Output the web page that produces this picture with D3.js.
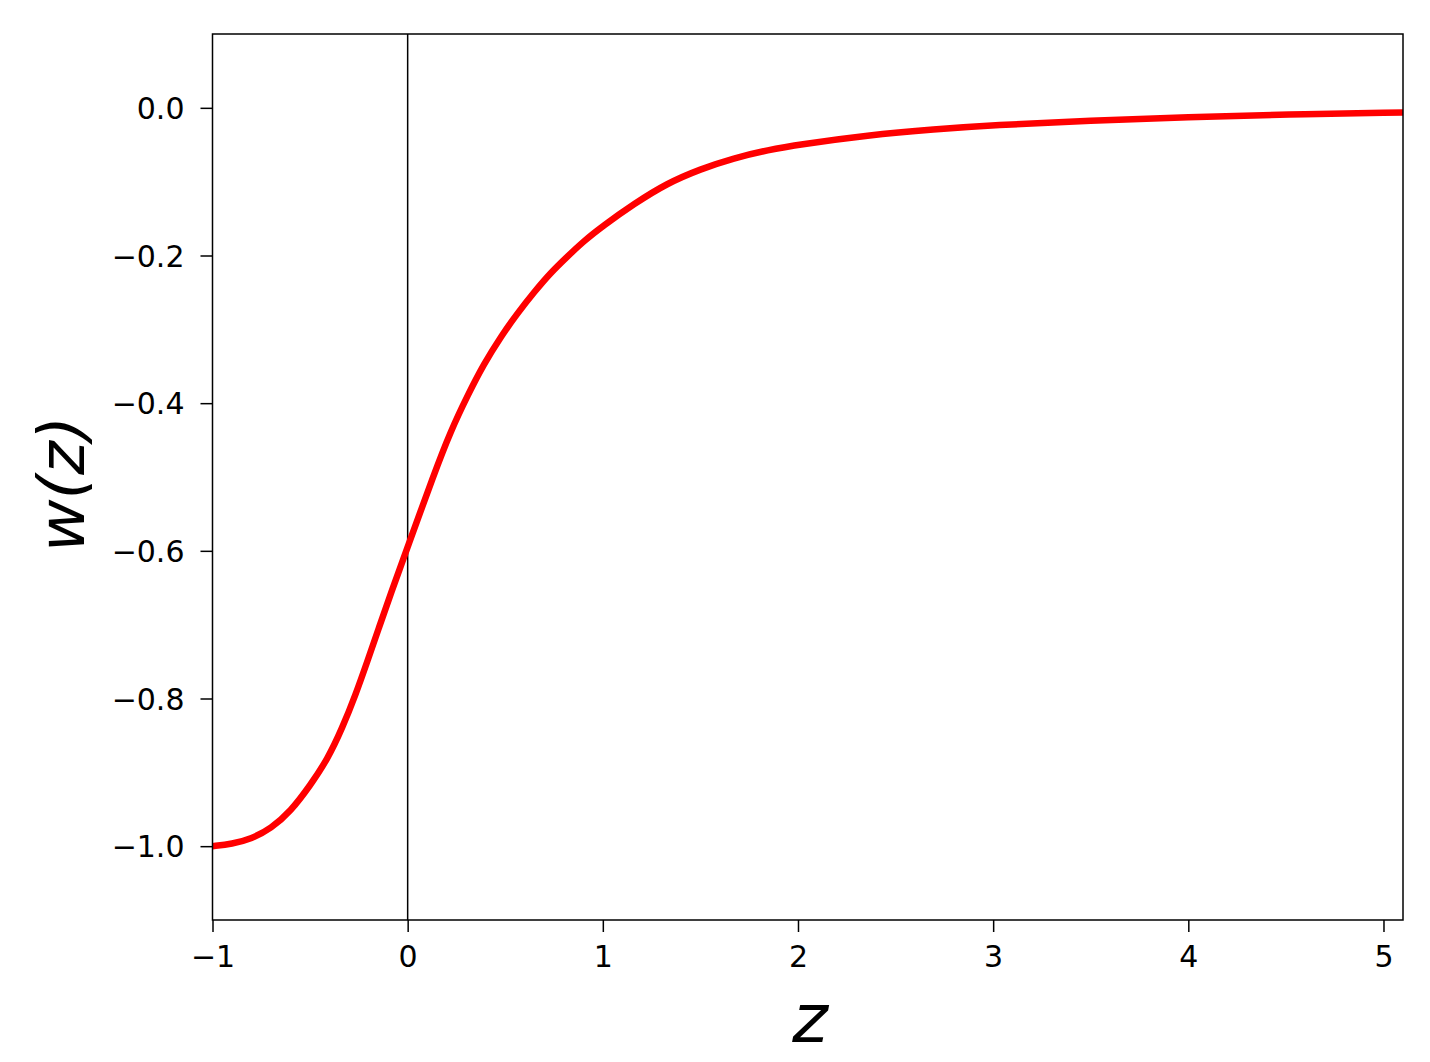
<!DOCTYPE html>
<html>
<head>
<meta charset="utf-8">
<script src="https://cdn.jsdelivr.net/npm/d3@7"></script>
<style>
  html, body { margin: 0; padding: 0; background: #fff; }
  svg { display: block; }
  text { font-family: "DejaVu Sans", sans-serif; fill: #000; }
</style>
</head>
<body>
<svg id="chart" width="1430" height="1062"></svg>
<script>
// Data
const zValues = [-1.0, -0.9, -0.8, -0.7, -0.6, -0.5, -0.41, -0.335, -0.267, -0.207, -0.147, -0.087, 0.0,
                 0.135, 0.22, 0.31, 0.39, 0.48, 0.56, 0.65, 0.73, 0.82, 0.90, 1.0, 1.16, 1.33, 1.50, 1.67, 1.85,
                 2.0, 2.36, 2.70, 3.0, 3.5, 4.0, 4.5, 5.1];
const wValues = [-1.0, -0.997, -0.990, -0.976, -0.953, -0.918, -0.882, -0.840, -0.795, -0.750, -0.704, -0.658, -0.595,
                 -0.496, -0.438, -0.388, -0.347, -0.309, -0.279, -0.249, -0.224, -0.201, -0.181, -0.160, -0.130, -0.102, -0.083, -0.068, -0.057,
                 -0.050, -0.037, -0.029, -0.0235, -0.017, -0.0125, -0.009, -0.0063];
const xTicks = [-1, 0, 1, 2, 3, 4, 5];
const yTicks = [-1.0, -0.8, -0.6, -0.4, -0.2, 0.0];
const xDomain = [-1, 5.1];
const yDomain = [-1.1, 0.1];
const xLabel = "z";
const yLabel = "w(z)";

(function () {
const svg = d3.select("#chart");
const pL = 212.5, pR = 1403, pT = 34, pB = 920;

const x = d3.scaleLinear().domain(xDomain).range([pL, pR]);
const y = d3.scaleLinear().domain(yDomain).range([pB, pT]);

const points = zValues.map((z, i) => [z, wValues[i]]);

svg.append("clipPath").attr("id", "clip")
  .append("rect").attr("x", pL).attr("y", pT).attr("width", pR - pL).attr("height", pB - pT);

// vertical line at z = 0
svg.append("line")
  .attr("x1", x(0)).attr("x2", x(0))
  .attr("y1", pT).attr("y2", pB)
  .attr("stroke", "#000").attr("stroke-width", 1.5);

// curve
const line = d3.line().x(d => x(d[0])).y(d => y(d[1])).curve(d3.curveBasis);
svg.append("path")
  .datum(points)
  .attr("clip-path", "url(#clip)")
  .attr("d", line)
  .attr("fill", "none")
  .attr("stroke", "#ff0000")
  .attr("stroke-width", 6.5)
  .attr("stroke-linejoin", "round");

// axes
const xAxis = d3.axisBottom(x).tickValues(xTicks).tickFormat(d3.format("d")).tickSize(12).tickPadding(14).tickSizeOuter(0);
const yAxis = d3.axisLeft(y).tickValues(yTicks).tickFormat(d3.format(".1f")).tickSize(12).tickPadding(16).tickSizeOuter(0);

const gx = svg.append("g").attr("transform", `translate(0,${pB})`).call(xAxis);
const gy = svg.append("g").attr("transform", `translate(${pL},0)`).call(yAxis);
[gx, gy].forEach(g => {
  g.select(".domain").remove();
  g.selectAll(".tick line").attr("stroke", "#000").attr("stroke-width", 1.5);
  g.selectAll(".tick text").attr("font-size", 30).attr("font-family", "DejaVu Sans").attr("fill", "#000");
});
gy.selectAll(".tick text").attr("dy", "0.35em");

// frame
svg.append("rect")
  .attr("x", pL).attr("y", pT).attr("width", pR - pL).attr("height", pB - pT)
  .attr("fill", "none").attr("stroke", "#000").attr("stroke-width", 1.5);

// axis labels
svg.append("text")
  .attr("x", 810).attr("y", 1042)
  .attr("text-anchor", "middle")
  .attr("font-size", 68).attr("font-style", "italic")
  .text(xLabel);

svg.append("text")
  .attr("transform", `translate(84,484) rotate(-90)`)
  .attr("text-anchor", "middle")
  .attr("font-size", 64).attr("font-style", "italic")
  .text(yLabel);
})();
</script>
</body>
</html>
